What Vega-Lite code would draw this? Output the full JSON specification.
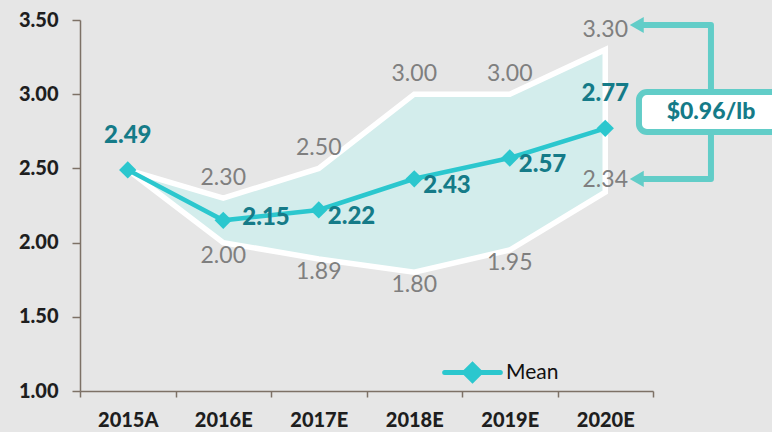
{
  "$schema": "https://vega.github.io/schema/vega-lite/v6.json",
  "width": 573,
  "height": 371,
  "autosize": {"type": "none"},
  "padding": {"left": 80, "top": 20, "right": 119, "bottom": 41},
  "background": "#e6e6e6",
  "config": {
    "view": {"stroke": null},
    "font": "Lato",
    "axis": {"grid": false, "domainColor": "#7d7166", "tickColor": "#7d7166", "domainWidth": 1.5, "tickWidth": 1.5, "labelFont": "Lato", "labelFontWeight": 900, "labelFontSize": 20, "labelColor": "#1e1e1e", "title": null}
  },
  "datasets": {
    "prices": [
      {"year": "2015A", "mean": 2.49, "high": 2.49, "low": 2.49},
      {"year": "2016E", "mean": 2.15, "high": 2.30, "low": 2.00},
      {"year": "2017E", "mean": 2.22, "high": 2.50, "low": 1.89},
      {"year": "2018E", "mean": 2.43, "high": 3.00, "low": 1.80},
      {"year": "2019E", "mean": 2.57, "high": 3.00, "low": 1.95},
      {"year": "2020E", "mean": 2.77, "high": 3.30, "low": 2.34}
    ],
    "bracket": [
      {"o": 1, "bx": 5.86, "by": 3.466},
      {"o": 2, "bx": 6.607, "by": 3.466},
      {"o": 3, "bx": 6.607, "by": 2.429},
      {"o": 4, "bx": 5.86, "by": 2.429}
    ],
    "arrows": [
      {"ax": 5.83, "ay": 3.466},
      {"ax": 5.83, "ay": 2.429}
    ],
    "box": [
      {"label": "$0.96/lb", "x1": 5.853, "x2": 7.8, "y1": 3.015, "y2": 2.745, "tx": 6.607, "ty": 2.877}
    ]
  },
  "layer": [
    {
      "data": {"name": "prices"},
      "encoding": {
        "x": {
          "field": "year", "type": "ordinal",
          "scale": {"type": "band", "paddingInner": 0, "paddingOuter": 0},
          "axis": {"tickBand": "extent", "tickSize": 6, "labelPadding": 13, "labelAngle": 0}
        }
      },
      "layer": [
        {
          "mark": {"type": "area", "fill": "#d3edec", "stroke": "#ffffff", "strokeWidth": 5.5, "strokeJoin": "miter"},
          "encoding": {
            "y": {"field": "high", "type": "quantitative", "scale": {"domain": [1, 3.5], "nice": false, "zero": false},
                  "axis": {"values": [1, 1.5, 2, 2.5, 3, 3.5], "format": ".2f", "tickSize": 8, "labelPadding": 14}},
            "y2": {"field": "low"}
          }
        },
        {
          "mark": {"type": "line", "strokeWidth": 4.5, "point": {"filled": true, "shape": "diamond", "size": 300}},
          "encoding": {
            "y": {"field": "mean", "type": "quantitative", "scale": {"domain": [1, 3.5], "nice": false, "zero": false}},
            "color": {
              "datum": "Mean",
              "scale": {"range": ["#2bc7ce"]},
              "legend": {
                "title": null, "orient": "none", "legendX": 362, "legendY": 322,
                "symbolType": "M-1,0L1,0M0,-0.28L0.28,0L0,0.28L-0.28,0Z",
                "symbolSize": 3100, "symbolStrokeWidth": 5, "symbolFillColor": "#2bc7ce", "symbolStrokeColor": "#2bc7ce",
                "labelFontSize": 21, "labelFont": "Lato", "labelColor": "#111111", "labelOffset": 3,
                "encode": {"symbols": {"update": {"fill": {"value": "#2bc7ce"}, "stroke": {"value": "#2bc7ce"}, "strokeCap": {"value": "round"}}}}
              }
            }
          }
        },
        {
          "transform": [{"filter": "datum.year !== '2015A'"}],
          "mark": {"type": "text", "fontSize": 23, "color": "#7f7f7f", "baseline": "middle", "dy": -20},
          "encoding": {
            "y": {"field": "high", "type": "quantitative", "scale": {"domain": [1, 3.5], "nice": false, "zero": false}},
            "text": {"field": "high", "type": "quantitative", "format": ".2f"}
          }
        },
        {
          "transform": [{"filter": "datum.year !== '2015A' && datum.year !== '2020E'"}],
          "mark": {"type": "text", "fontSize": 23, "color": "#7f7f7f", "baseline": "middle", "dy": 13},
          "encoding": {
            "y": {"field": "low", "type": "quantitative", "scale": {"domain": [1, 3.5], "nice": false, "zero": false}},
            "text": {"field": "low", "type": "quantitative", "format": ".2f"}
          }
        },
        {
          "transform": [{"filter": "datum.year === '2020E'"}],
          "mark": {"type": "text", "fontSize": 23, "color": "#7f7f7f", "baseline": "middle", "dy": -12},
          "encoding": {
            "y": {"field": "low", "type": "quantitative", "scale": {"domain": [1, 3.5], "nice": false, "zero": false}},
            "text": {"field": "low", "type": "quantitative", "format": ".2f"}
          }
        },
        {
          "transform": [{"filter": "datum.year === '2015A' || datum.year === '2020E'"}],
          "mark": {"type": "text", "fontSize": 24, "fontWeight": 900, "color": "#157b88", "baseline": "middle", "dy": -34},
          "encoding": {
            "y": {"field": "mean", "type": "quantitative", "scale": {"domain": [1, 3.5], "nice": false, "zero": false}},
            "text": {"field": "mean", "type": "quantitative", "format": ".2f"}
          }
        },
        {
          "transform": [{"filter": "datum.year === '2016E'"}],
          "mark": {"type": "text", "fontSize": 24, "fontWeight": 900, "color": "#157b88", "baseline": "middle", "align": "left", "dx": 19, "dy": -2},
          "encoding": {
            "y": {"field": "mean", "type": "quantitative", "scale": {"domain": [1, 3.5], "nice": false, "zero": false}},
            "text": {"field": "mean", "type": "quantitative", "format": ".2f"}
          }
        },
        {
          "transform": [{"filter": "datum.year === '2017E' || datum.year === '2018E' || datum.year === '2019E'"}],
          "mark": {"type": "text", "fontSize": 24, "fontWeight": 900, "color": "#157b88", "baseline": "middle", "align": "left", "dx": 9, "dy": 7},
          "encoding": {
            "y": {"field": "mean", "type": "quantitative", "scale": {"domain": [1, 3.5], "nice": false, "zero": false}},
            "text": {"field": "mean", "type": "quantitative", "format": ".2f"}
          }
        }
      ]
    },
    {
      "layer": [
        {
          "data": {"name": "bracket"},
          "mark": {"type": "line", "color": "#62cdc8", "strokeWidth": 6, "strokeJoin": "round"},
          "encoding": {
            "x": {"field": "bx", "type": "quantitative", "scale": {"domain": [0, 6], "nice": false, "zero": false}, "axis": null},
            "y": {"field": "by", "type": "quantitative", "scale": {"domain": [1, 3.5], "nice": false, "zero": false}},
            "order": {"field": "o"}
          }
        },
        {
          "data": {"name": "arrows"},
          "mark": {"type": "point", "shape": "triangle-left", "filled": true, "color": "#62cdc8", "size": 260, "opacity": 1},
          "encoding": {
            "x": {"field": "ax", "type": "quantitative", "scale": {"domain": [0, 6], "nice": false, "zero": false}, "axis": null},
            "y": {"field": "ay", "type": "quantitative", "scale": {"domain": [1, 3.5], "nice": false, "zero": false}}
          }
        },
        {
          "data": {"name": "box"},
          "mark": {"type": "rect", "fill": "#ffffff", "stroke": "#62cdc8", "strokeWidth": 6, "cornerRadius": 8},
          "encoding": {
            "x": {"field": "x1", "type": "quantitative", "scale": {"domain": [0, 6], "nice": false, "zero": false}, "axis": null},
            "x2": {"field": "x2"},
            "y": {"field": "y1", "type": "quantitative", "scale": {"domain": [1, 3.5], "nice": false, "zero": false}},
            "y2": {"field": "y2"}
          }
        },
        {
          "data": {"name": "box"},
          "mark": {"type": "text", "fontSize": 23, "fontWeight": 900, "color": "#157b88", "baseline": "middle", "align": "center"},
          "encoding": {
            "x": {"field": "tx", "type": "quantitative", "scale": {"domain": [0, 6], "nice": false, "zero": false}, "axis": null},
            "y": {"field": "ty", "type": "quantitative", "scale": {"domain": [1, 3.5], "nice": false, "zero": false}},
            "text": {"field": "label"}
          }
        }
      ]
    }
  ],
  "resolve": {"scale": {"x": "independent"}}
}
